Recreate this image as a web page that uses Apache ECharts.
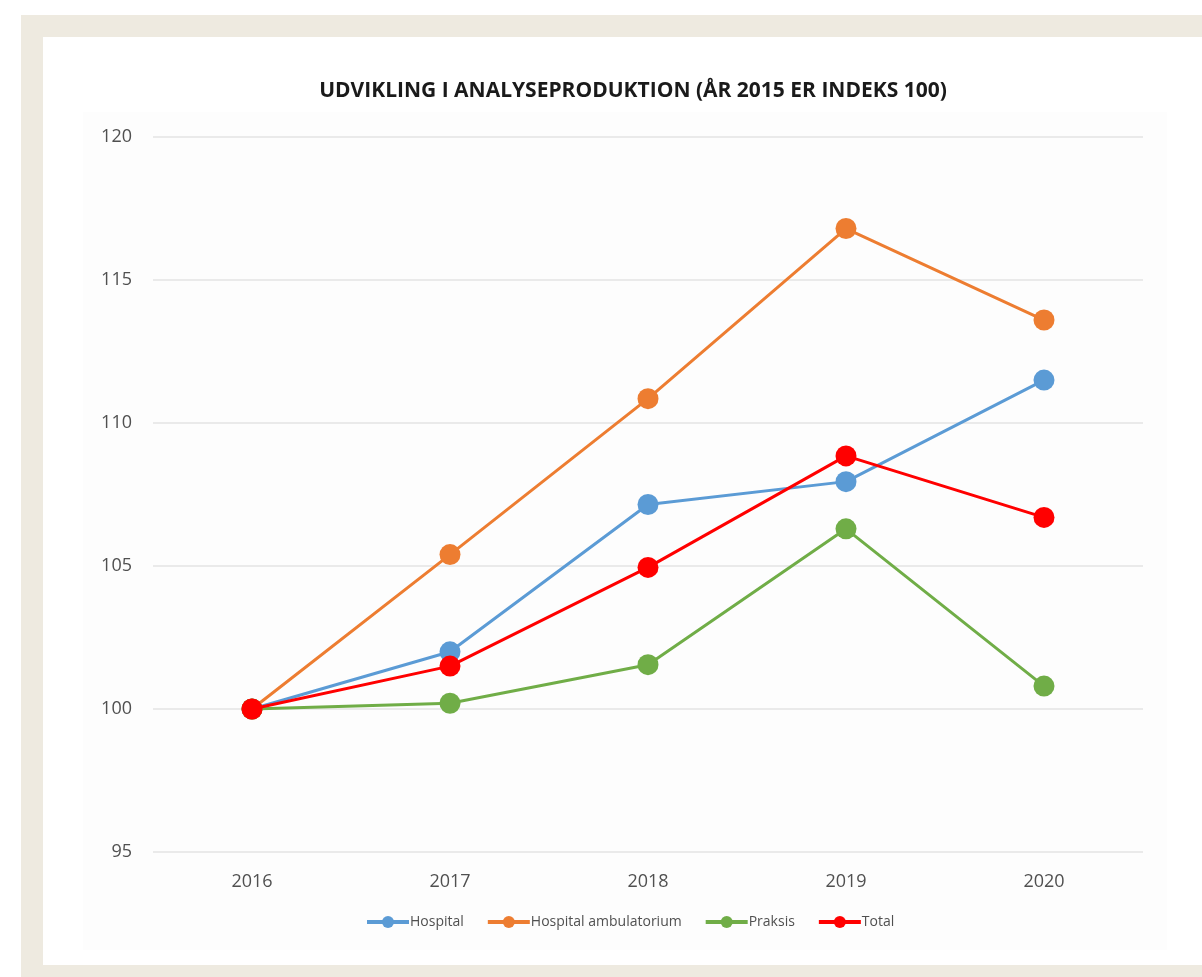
<!DOCTYPE html>
<html>
<head>
<meta charset="utf-8">
<script src="https://cdn.jsdelivr.net/npm/echarts@6/dist/echarts.min.js"></script>
<style>
  html, body { margin: 0; padding: 0; background: #ffffff; }
  #chart { width: 1202px; height: 977px; }
</style>
</head>
<body>
<div id="chart"></div>
<script>
// Years on the category axis
const years = ['2016', '2017', '2018', '2019', '2020'];

// Index values (2015 = 100)
const hospital = [100, 102.0, 107.15, 107.95, 111.5];
const hospitalAmbulatorium = [100, 105.4, 110.85, 116.8, 113.6];
const praksis = [100, 100.2, 101.55, 106.3, 100.8];
const total = [100, 101.5, 104.95, 108.85, 106.7];

const seriesNames = ['Hospital', 'Hospital ambulatorium', 'Praksis', 'Total'];
const seriesColors = ['#5b9bd5', '#ed7d31', '#70ad47', '#ff0000'];
const seriesData = [hospital, hospitalAmbulatorium, praksis, total];

const chart = echarts.init(document.getElementById('chart'));

chart.setOption({
  animation: false,
  backgroundColor: '#ffffff',
  graphic: [
    // beige frame
    { type: 'rect', z: -10, shape: { x: 21, y: 15, width: 1181, height: 962 }, style: { fill: '#eeeae0' } },
    { type: 'rect', z: -9, shape: { x: 43, y: 37, width: 1159, height: 928 }, style: { fill: '#ffffff' } },
    { type: 'rect', z: -8, shape: { x: 83, y: 112, width: 1084, height: 838 }, style: { fill: '#fdfdfd' } }
  ],
  title: {
    text: 'UDVIKLING I ANALYSEPRODUKTION (ÅR 2015 ER INDEKS 100)',
    left: 628,
    textAlign: 'center',
    top: 76,
    textStyle: { fontFamily: 'Open Sans', fontWeight: 'bold', fontSize: 21, color: '#1a1a1a' }
  },
  legend: {
    left: 360,
    top: 910,
    itemWidth: 42,
    itemHeight: 15,
    itemGap: 22,
    lineStyle: { width: 4 },
    textStyle: { fontFamily: 'Open Sans', fontSize: 14, color: '#505050', padding: [0, 0, 0, -4] },
    data: seriesNames
  },
  grid: { left: 153, right: 59, top: 137, bottom: 125 },
  xAxis: {
    type: 'category',
    data: years,
    boundaryGap: true,
    axisLine: { show: false },
    axisTick: { show: false },
    axisLabel: { margin: 21, fontFamily: 'Open Sans', fontSize: 18, color: '#505050' }
  },
  yAxis: {
    type: 'value',
    min: 95,
    max: 120,
    interval: 5,
    axisLine: { show: false },
    axisTick: { show: false },
    axisLabel: { margin: 21, fontFamily: 'Open Sans', fontSize: 18, color: '#505050' },
    splitLine: { lineStyle: { color: '#e3e3e3', width: 1.5 } }
  },
  series: seriesData.map((d, i) => ({
    name: seriesNames[i],
    type: 'line',
    data: d,
    symbol: 'circle',
    symbolSize: 21,
    color: seriesColors[i],
    lineStyle: { width: 3, color: seriesColors[i] },
    itemStyle: { color: seriesColors[i] },
    z: 2 + i
  }))
});
</script>
</body>
</html>
